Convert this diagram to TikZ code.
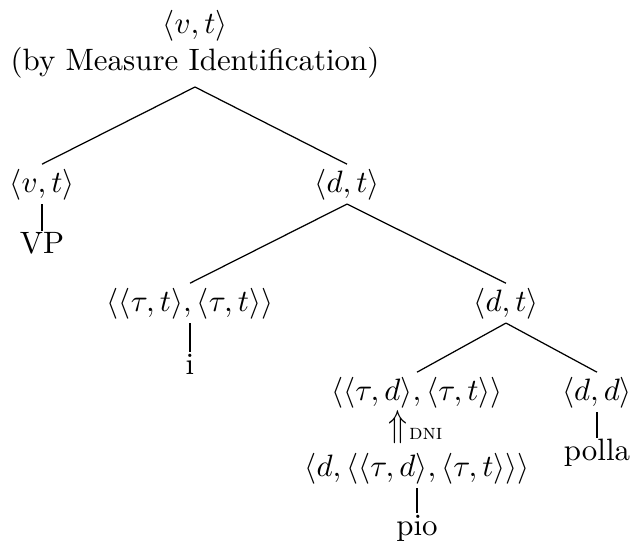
\documentclass[tikz,border=0pt]{standalone}
\begin{document}
\begin{tikzpicture}[x=0.3236pt,y=-0.3236pt,
  lab/.style={anchor=base,inner sep=0pt,outer sep=0pt,text height=9pt,text depth=3.9pt},
  leaf/.style={anchor=base,inner sep=0pt,outer sep=0pt,text height=7pt,text depth=2pt},
  plain/.style={anchor=base,inner sep=0pt,outer sep=0pt},
  edge/.style={line width=0.4pt}]
\useasboundingbox (0,0) rectangle (630,545);
% root
\node[plain] (root) at (195,33) {$\langle v,t\rangle$};
\node[plain] (note) at (195,70) {(by Measure Identification)};
\coordinate (rootb) at (195,87);
% level B
\node[lab] (vt) at (42,192) {$\langle v,t\rangle$};
\node[leaf] (vp) at (42,253) {VP};
\node[lab] (dt1) at (347,192) {$\langle d,t\rangle$};
% level C
\node[lab] (tt) at (190,311) {$\langle\langle\tau,t\rangle,\langle\tau,t\rangle\rangle$};
\node[leaf] (i) at (190,374) {i};
\node[lab] (dt2) at (506,311) {$\langle d,t\rangle$};
% level D
\node[lab,text depth=2.5pt] (td) at (417,400) {$\langle\langle\tau,d\rangle,\langle\tau,t\rangle\rangle$};
\node[lab] (dd) at (597,400) {$\langle d,d\rangle$};
\node[leaf] (polla) at (597,460) {polla};
% DNI
\node[inner sep=0pt] (up) at (398,427) {\scalebox{1}[1.22]{$\Uparrow$}};
\node[plain,anchor=base west,font=\scriptsize] (dni) at (409,439) {\textsc{dni}};
% level E
\node[lab] (dtd) at (417,476) {$\langle d,\langle\langle\tau,d\rangle,\langle\tau,t\rangle\rangle\rangle$};
\node[leaf] (pio) at (417,535) {pio};
% edges
\draw[edge] (rootb) -- (vt.north);
\draw[edge] (rootb) -- (dt1.north);
\draw[edge] (vt.south) -- (vp.north);
\draw[edge] (dt1.south) -- (tt.north);
\draw[edge] (dt1.south) -- (dt2.north);
\draw[edge] (tt.south) -- (i.north);
\draw[edge] (dt2.south) -- (td.north);
\draw[edge] (dt2.south) -- (dd.north);
\draw[edge] (dd.south) -- (polla.north);
\draw[edge] (dtd.south) -- (pio.north);
\end{tikzpicture}
\end{document}
